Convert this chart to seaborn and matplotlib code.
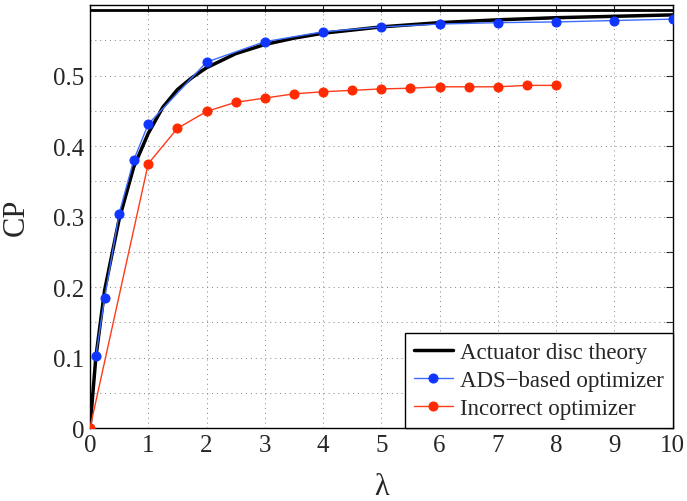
import matplotlib
matplotlib.use("Agg")
import matplotlib.pyplot as plt
import pandas as pd
import seaborn as sns

# actuator disc theory
theory_lambda = [0, 0.05, 0.1, 0.25, 0.5, 0.75, 1.0, 1.25, 1.5, 1.75, 2.0, 2.5, 3.0, 3.5, 4.0, 5.0, 6.0, 7.0, 8.0, 9.0, 10.0]
theory_cp = [0, 0.05, 0.10, 0.195, 0.296, 0.370, 0.418, 0.455, 0.480, 0.497, 0.511, 0.531, 0.544, 0.553, 0.560, 0.569, 0.575, 0.579, 0.582, 0.584, 0.586]
betz_limit = 0.593

ads_lambda = [0.1, 0.25, 0.5, 0.75, 1, 2, 3, 4, 5, 6, 7, 8, 9, 10]
ads_cp = [0.102, 0.184, 0.304, 0.380, 0.431, 0.519, 0.548, 0.562, 0.569, 0.573, 0.575, 0.576, 0.578, 0.580]

bad_lambda = [0, 1, 1.5, 2, 2.5, 3, 3.5, 4, 4.5, 5, 5.5, 6, 6.5, 7, 7.5, 8]
bad_cp = [0, 0.375, 0.425, 0.449, 0.462, 0.468, 0.474, 0.477, 0.479, 0.481, 0.482, 0.484, 0.484, 0.484, 0.486, 0.486]

y_ticks = [0, 0.05, 0.1, 0.15, 0.2, 0.25, 0.3, 0.35, 0.4, 0.45, 0.5, 0.55]
y_tick_labels = ["0", "", "0.1", "", "0.2", "", "0.3", "", "0.4", "", "0.5", ""]
x_ticks = list(range(0, 11))


def main():
    sns.set_style("white")
    plt.rcParams["font.family"] = ["Liberation Serif", "DejaVu Serif"]

    theory = pd.DataFrame({"lam": theory_lambda, "cp": theory_cp})
    ads = pd.DataFrame({"lam": ads_lambda, "cp": ads_cp})
    bad = pd.DataFrame({"lam": bad_lambda, "cp": bad_cp})

    fig = plt.figure(figsize=(6.87, 5.02), dpi=100)
    ax = fig.add_axes([0.131, 0.1454, 0.848, 0.8426])

    ax.axhline(betz_limit, color="black", linewidth=2.0, zorder=3)
    sns.lineplot(data=theory, x="lam", y="cp", color="black", linewidth=2.5,
                 ax=ax, label="Actuator disc theory", zorder=3)
    sns.lineplot(data=ads, x="lam", y="cp", color="#3b6cff", linewidth=1.0,
                 marker="o", markersize=6.5, markerfacecolor="#0f35ff",
                 markeredgecolor="#0f35ff", ax=ax, label="ADS\u2212based optimizer", zorder=4)
    sns.lineplot(data=bad, x="lam", y="cp", color="#ff3a1a", linewidth=1.0,
                 marker="o", markersize=6.5, markerfacecolor="#ff2a00",
                 markeredgecolor="#ff2a00", ax=ax, label="Incorrect optimizer", zorder=4)

    ax.set_xlim(0, 10)
    ax.set_ylim(0, 0.6)
    ax.set_xticks(x_ticks)
    ax.set_xticklabels([str(t) for t in x_ticks])
    ax.set_yticks(y_ticks)
    ax.set_yticklabels(y_tick_labels)
    ax.tick_params(direction="in", top=True, right=True, length=5, width=0.8,
                   labelsize=18, pad=4)
    ax.grid(True, linestyle=(0, (1, 4)), color="#808080", linewidth=0.7)
    for sp in ax.spines.values():
        sp.set_color("black")
        sp.set_linewidth(1.0)

    ax.set_xlabel("\u03bb", fontsize=22, labelpad=12)
    ax.set_ylabel("CP", fontsize=22, labelpad=16)

    leg = ax.legend(loc="lower right", borderaxespad=0, fontsize=16.5,
                    fancybox=False, framealpha=1, edgecolor="black",
                    handlelength=1.7, handletextpad=0.3, borderpad=0.4,
                    labelspacing=0.3)
    leg.get_frame().set_linewidth(1.0)

    fig.savefig("out.png", dpi=100)
    plt.close(fig)


if __name__ == "__main__":
    main()
